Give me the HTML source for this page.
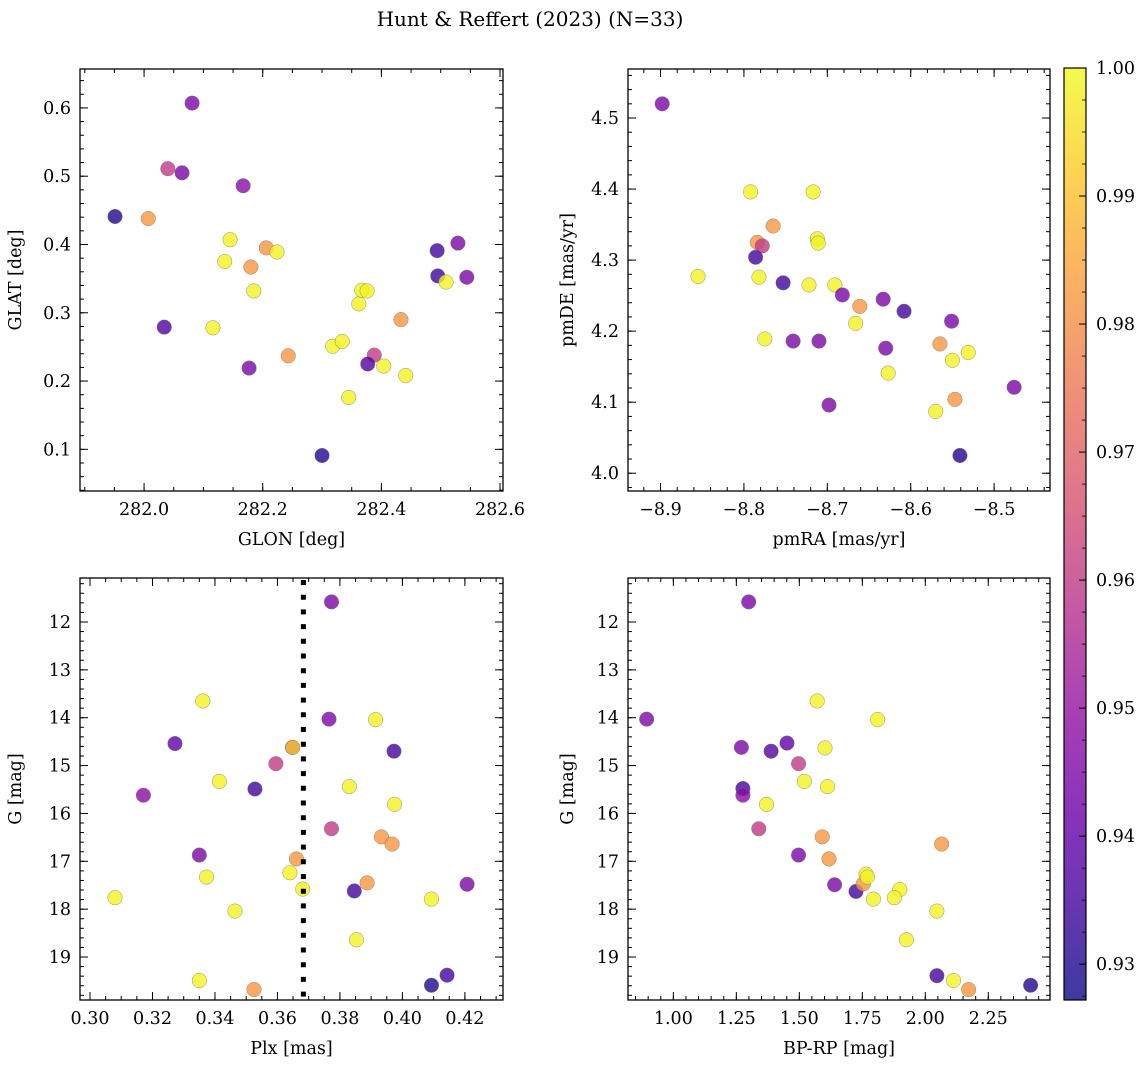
<!DOCTYPE html>
<html><head><meta charset="utf-8">
<style>
html,body{margin:0;padding:0;background:#fff;}
svg{display:block;font-family:"DejaVu Serif","Liberation Serif",serif;}
</style></head>
<body>
<svg id="fig" width="1148" height="1068" viewBox="0 0 1148 1068">
<defs>
<linearGradient id="cbg" x1="0" y1="1" x2="0" y2="0"></linearGradient>
</defs>
<text x="530" y="26" font-size="20" text-anchor="middle">Hunt &amp; Reffert (2023) (N=33)</text>
</svg>
<script>
// ---- data ----
const glon=[281.951,282.007,282.081,282.040,282.064,282.167,282.145,282.136,282.206,282.224,282.180,282.185,282.116,282.034,282.177,282.243,282.300,282.318,282.334,282.345,282.362,282.367,282.376,282.388,282.377,282.404,282.441,282.433,282.494,282.495,282.509,282.529,282.544];
const glat=[0.441,0.438,0.607,0.511,0.505,0.486,0.407,0.375,0.395,0.389,0.367,0.332,0.278,0.279,0.219,0.237,0.091,0.251,0.258,0.176,0.313,0.333,0.332,0.238,0.225,0.222,0.208,0.290,0.391,0.354,0.345,0.402,0.352];
const probA=[0.930,0.982,0.945,0.960,0.945,0.948,0.999,0.999,0.982,0.999,0.982,0.999,0.999,0.937,0.945,0.982,0.930,0.999,0.999,0.999,0.999,0.999,0.999,0.960,0.937,0.999,0.999,0.982,0.935,0.935,0.999,0.945,0.945];
const pmra=[-8.898,-8.792,-8.717,-8.765,-8.784,-8.712,-8.711,-8.778,-8.855,-8.782,-8.786,-8.753,-8.722,-8.691,-8.682,-8.633,-8.661,-8.608,-8.666,-8.551,-8.775,-8.741,-8.710,-8.630,-8.565,-8.550,-8.531,-8.627,-8.547,-8.698,-8.570,-8.476,-8.541];
const pmde=[4.520,4.396,4.396,4.348,4.325,4.330,4.324,4.320,4.277,4.276,4.304,4.268,4.265,4.265,4.251,4.245,4.235,4.228,4.211,4.214,4.189,4.186,4.186,4.176,4.182,4.159,4.170,4.141,4.104,4.096,4.087,4.121,4.025];
const probB=[0.945,0.999,0.999,0.982,0.982,0.999,0.999,0.960,0.999,0.999,0.935,0.935,0.999,0.999,0.945,0.945,0.982,0.935,0.999,0.945,0.999,0.945,0.945,0.945,0.982,0.999,0.999,0.999,0.982,0.945,0.999,0.945,0.930];
const plx=[0.3773,0.3361,0.3765,0.3914,0.3272,0.3973,0.3648,0.3649,0.3595,0.3414,0.3528,0.3171,0.3830,0.3975,0.3773,0.3933,0.3967,0.3350,0.3661,0.3373,0.3640,0.3681,0.3846,0.3887,0.4207,0.3080,0.4093,0.3464,0.3853,0.3350,0.3525,0.4093,0.4143];
const gC=[11.58,13.65,14.03,14.04,14.54,14.70,14.62,14.62,14.96,15.33,15.49,15.62,15.44,15.81,16.32,16.49,16.64,16.87,16.95,17.33,17.24,17.58,17.62,17.45,17.48,17.76,17.79,18.04,18.64,19.49,19.68,19.59,19.38];
const probC=[0.945,0.999,0.945,0.999,0.940,0.935,0.945,0.993,0.960,0.999,0.935,0.948,0.999,0.999,0.960,0.982,0.982,0.945,0.982,0.999,0.999,0.999,0.935,0.982,0.945,0.999,0.999,0.999,0.999,0.999,0.982,0.930,0.935];
const bprp=[1.299,0.894,1.270,1.388,1.451,1.571,1.602,1.811,1.497,1.520,1.612,1.276,1.276,1.370,1.339,1.591,2.065,1.497,1.618,1.640,1.725,1.754,1.765,1.770,1.794,1.899,1.877,2.046,1.925,2.046,2.112,2.172,2.418];
const gD=[11.58,14.03,14.62,14.70,14.53,13.65,14.63,14.04,14.96,15.33,15.44,15.48,15.62,15.81,16.32,16.49,16.64,16.87,16.95,17.49,17.63,17.47,17.27,17.33,17.79,17.59,17.76,18.04,18.64,19.39,19.49,19.68,19.59];
const probD=[0.945,0.945,0.945,0.937,0.940,0.999,0.999,0.999,0.960,0.999,0.999,0.935,0.948,0.999,0.960,0.982,0.982,0.945,0.982,0.945,0.935,0.982,0.999,0.999,0.999,0.999,0.999,0.999,0.999,0.935,0.999,0.982,0.930];
const plxCut=[0.3683];
const cbTicks=[0.93,0.94,0.95,0.96,0.97,0.98,0.99,1.00];
const ticksA_x=[282.0,282.2,282.4,282.6], ticksA_y=[0.1,0.2,0.3,0.4,0.5,0.6];
const ticksB_x=[-8.9,-8.8,-8.7,-8.6,-8.5], ticksB_y=[4.0,4.1,4.2,4.3,4.4,4.5];
const ticksC_x=[0.30,0.32,0.34,0.36,0.38,0.40,0.42], ticksG=[12,13,14,15,16,17,18,19];
const ticksD_x=[1.00,1.25,1.50,1.75,2.00,2.25];

const NS="http://www.w3.org/2000/svg";
const svg=document.getElementById('fig');
function mk(tag,attrs,parent){const e=document.createElementNS(NS,tag);for(const k in attrs)e.setAttribute(k,attrs[k]);(parent||svg).appendChild(e);return e;}
const stops=["#0d0887","#41049d","#6a00a8","#8f0da4","#b12a90","#cc4778","#e16462","#f2844b","#fca636","#fcce25","#f0f921"];
function hex(h){return [parseInt(h.substr(1,2),16),parseInt(h.substr(3,2),16),parseInt(h.substr(5,2),16)];}
const VMIN=0.9272,VMAX=1.0;
function plasma(t){t=Math.max(0,Math.min(1,t));const f=t*10,i=Math.min(9,Math.floor(f)),u=f-i;const a=hex(stops[i]),b=hex(stops[i+1]);return 'rgb('+a.map((v,k)=>Math.round(v+(b[k]-v)*u)).join(',')+')';}
function cmap(p){return plasma((p-VMIN)/(VMAX-VMIN));}
const FS=17.5;

function panel(name,box,xr,yr,xt,yt,xminor,yminor,xfmt,yfmt,xs,ys,ps,xlabel,ylabel){
  const g=mk('g',{});
  
  
  const X=v=>box.l+(v-xr[0])/(xr[1]-xr[0])*(box.r-box.l);
  const Y=v=>box.b-(v-yr[0])/(yr[1]-yr[0])*(box.b-box.t);
  const tg=mk('g',{stroke:'#000','stroke-width':1},g);
  
  
  const x0=Math.min(xr[0],xr[1]),x1=Math.max(xr[0],xr[1]);
  for(let v=Math.ceil(x0/xminor-1e-6)*xminor;v<=x1+1e-9;v+=xminor){const px=X(v);mk('line',{x1:px,x2:px,y1:box.b,y2:box.b-4},tg);mk('line',{x1:px,x2:px,y1:box.t,y2:box.t+4},tg);}
  const y0=Math.min(yr[0],yr[1]),y1=Math.max(yr[0],yr[1]);
  for(let v=Math.ceil(y0/yminor-1e-6)*yminor;v<=y1+1e-9;v+=yminor){const py=Y(v);mk('line',{x1:box.l,x2:box.l+4,y1:py,y2:py},tg);mk('line',{x1:box.r,x2:box.r-4,y1:py,y2:py},tg);}
  xt.forEach(v=>{const px=X(v);mk('line',{x1:px,x2:px,y1:box.b,y2:box.b-8},tg);mk('line',{x1:px,x2:px,y1:box.t,y2:box.t+8},tg);
    const t=mk('text',{x:px,y:box.b+24,'font-size':FS,'text-anchor':'middle'},g);t.textContent=xfmt(v);
    
    });
  yt.forEach(v=>{const py=Y(v);mk('line',{x1:box.l,x2:box.l+8,y1:py,y2:py},tg);mk('line',{x1:box.r,x2:box.r-8,y1:py,y2:py},tg);
    const t=mk('text',{x:box.l-9,y:py+6,'font-size':FS,'text-anchor':'end'},g);t.textContent=yfmt(v);
    
    });
  const pts=mk('g',{},g);
  
  
  xs.forEach((v,i)=>{const c=mk('circle',{cx:X(v),cy:Y(ys[i]),r:7.3,fill:cmap(ps[i]),'fill-opacity':0.8,stroke:'#777','stroke-width':0.5,'stroke-opacity':0.8},pts);
    
    });
  const fr=mk('rect',{x:box.l,y:box.t,width:box.r-box.l,height:box.b-box.t,fill:'none',stroke:'#000','stroke-width':1.3},g);
  
  
  const xl=mk('text',{x:(box.l+box.r)/2,y:box.b+54,'font-size':FS,'text-anchor':'middle'},g);xl.textContent=xlabel;
  
  
  const yx=box.l-(name.indexOf('right')>=0?55:59), ymid=(box.t+box.b)/2;
  const yl=mk('text',{x:yx,y:ymid,'font-size':FS,'text-anchor':'middle',transform:'rotate(-90 '+yx+' '+ymid+')'},g);yl.textContent=ylabel;
  
  
  return {X,Y,g};
}
const f1=v=>v.toFixed(1), f2=v=>v.toFixed(2), f0=v=>String(v);
panel('panel-top-left',{l:80,r:503,t:69,b:491},[281.892,282.605],[0.039,0.657],ticksA_x,ticksA_y,0.05,0.02,f1,f1,glon,glat,probA,'GLON [deg]','GLAT [deg]');
panel('panel-top-right',{l:628,r:1050,t:69,b:491},[-8.939,-8.433],[3.975,4.569],ticksB_x,ticksB_y,0.02,0.02,v=>f1(v).replace('-','\u2212'),f1,pmra,pmde,probB,'pmRA [mas/yr]','pmDE [mas/yr]');
const pC=panel('panel-bottom-left',{l:80,r:503,t:578,b:1000},[0.2968,0.4322],[19.898,11.081],ticksC_x,ticksG,0.005,0.2,f2,f0,plx,gC,probC,'Plx [mas]','G [mag]');
panel('panel-bottom-right',{l:628,r:1050,t:578,b:1000},[0.820,2.495],[19.898,11.081],ticksD_x,ticksG,0.05,0.2,f2,f0,bprp,gD,probD,'BP-RP [mag]','G [mag]');
plxCut.forEach(v=>{const l=mk('line',{x1:pC.X(v),x2:pC.X(v),y1:580,y2:1000,stroke:'#000','stroke-width':5,'stroke-dasharray':'5,9.7'},pC.g);
  
  });
const grad=document.getElementById('cbg');
for(let i=0;i<=20;i++){mk('stop',{offset:i/20,'stop-color':plasma(i/20),'stop-opacity':0.8},grad);}
const cb=mk('g',{});


const cbT=68,cbB=1000,CY=v=>cbB-(v-VMIN)/(VMAX-VMIN)*(cbB-cbT);
mk('rect',{x:1064,y:cbT,width:22,height:cbB-cbT,fill:'url(#cbg)',stroke:'#000','stroke-width':1.2},cb);
cbTicks.forEach(v=>{const py=CY(v);mk('line',{x1:1086,x2:1079,y1:py,y2:py,stroke:'#000','stroke-width':1},cb);
  const t=mk('text',{x:1096,y:py+6,'font-size':FS},cb);t.textContent=v.toFixed(2);
  
  });
for(let v=0.9275;v<1.0;v+=0.0025){const py=CY(v);mk('line',{x1:1086,x2:1082,y1:py,y2:py,stroke:'#000','stroke-width':0.8},cb);}
</script>
</body></html>
